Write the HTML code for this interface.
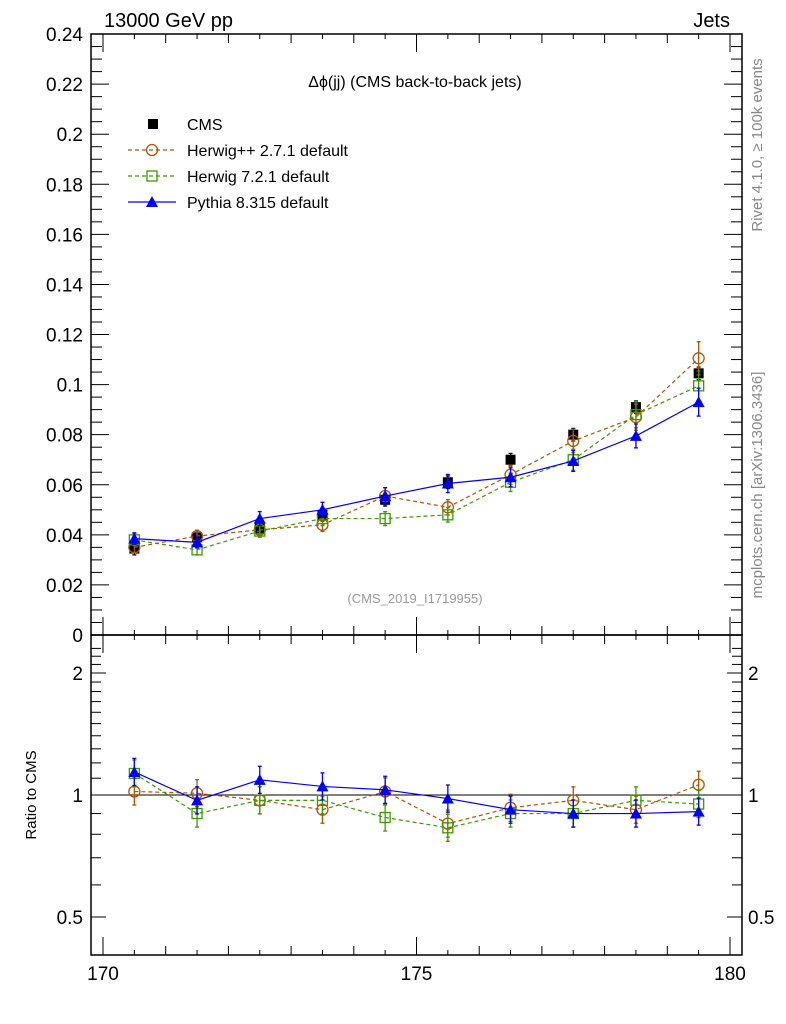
<!DOCTYPE html>
<html><head><meta charset="utf-8"><style>
body{margin:0;background:#fff}
svg{display:block;font-family:"Liberation Sans",Arial,sans-serif}
</style></head><body>
<svg id="s" width="786" height="1024" xmlns="http://www.w3.org/2000/svg"></svg>
<script>
const S=document.getElementById('s');let h='';
const X=v=>103+(v-170)*62.7;
const Y=v=>635-v*2504;
const R=v=>795-Math.log2(v)*122;
const L=91,Rt=742,T=34,M=635,B=955;
h+=`<rect x="${L}" y="${T}" width="${Rt-L}" height="${M-T}" fill="none" stroke="#000" stroke-width="1.5"/>`;
h+=`<rect x="${L}" y="${M}" width="${Rt-L}" height="${B-M}" fill="none" stroke="#000" stroke-width="1.5"/>`;
for(let v=170;v<=180.01;v+=0.5){const x=X(v),maj=Math.abs(v-Math.round(v))<.01;const l=maj?9:5;
 [[T,1],[M,-1],[M,1],[B,-1]].forEach(([y,d])=>{h+=`<line x1="${x}" y1="${y}" x2="${x}" y2="${y+d*l*(Number.isInteger(v)&&v%5==0?2:1)}" stroke="#000"/>`});}
for(let i=0;i<=48;i++){const v=i*0.005,y=Y(v),maj=i%4==0;const l=maj?18:11;
 h+=`<line x1="${L}" y1="${y}" x2="${L+l}" y2="${y}" stroke="#000"/><line x1="${Rt}" y1="${y}" x2="${Rt-l}" y2="${y}" stroke="#000"/>`;
 if(maj)h+=`<text x="${L-8}" y="${y+7}" font-size="19" text-anchor="end">${i==0?'0':(+v.toFixed(2)).toString()}</text>`;}
[0.5,0.6,0.7,0.8,0.9,1,1.1,1.2,1.3,1.4,1.5,1.6,1.7,1.8,1.9,2,2.1,2.2,2.3].forEach(v=>{const y=R(v);if(y<M||y>B)return;const maj=[0.5,1,2].includes(v);const l=maj?15:10;
 h+=`<line x1="${L}" y1="${y}" x2="${L+l}" y2="${y}" stroke="#000"/><line x1="${Rt}" y1="${y}" x2="${Rt-l}" y2="${y}" stroke="#000"/>`;
 if(maj){h+=`<text x="${L-8}" y="${y+7}" font-size="19" text-anchor="end">${v}</text><text x="${Rt+6}" y="${y+7}" font-size="19">${v}</text>`;}});
h+=`<line x1="${L}" y1="${R(1)}" x2="${Rt}" y2="${R(1)}" stroke="#000"/>`;
[170,175,180].forEach(v=>h+=`<text x="${X(v)}" y="980" font-size="19" text-anchor="middle">${v}</text>`);
h+=`<text x="104" y="27" font-size="20">13000 GeV pp</text><text x="730" y="27" font-size="20" text-anchor="end">Jets</text>`;
h+=`<text x="415" y="87" font-size="16" text-anchor="middle">Δϕ(jj) (CMS back-to-back jets)</text>`;
h+=`<text x="415" y="603" font-size="13" fill="#999" text-anchor="middle">(CMS_2019_I1719955)</text>`;
h+=`<text transform="translate(762,145) rotate(-90)" font-size="15" fill="#888" text-anchor="middle">Rivet 4.1.0, ≥ 100k events</text>`;
h+=`<text transform="translate(762,485) rotate(-90)" font-size="15" fill="#888" text-anchor="middle">mcplots.cern.ch [arXiv:1306.3436]</text>`;
h+=`<text transform="translate(36,795) rotate(-90)" font-size="15" text-anchor="middle">Ratio to CMS</text>`;
const xs=[170.5,171.5,172.5,173.5,174.5,175.5,176.5,177.5,178.5,179.5];
const cms=[0.0345,0.039,0.0425,0.048,0.054,0.061,0.070,0.080,0.091,0.1045];
const ser=[
 {c:'#b35300',d:'4,3',m:'c',v:[0.035,0.0395,0.042,0.044,0.0555,0.051,0.064,0.0775,0.087,0.1105],r:[1.02,1.01,0.97,0.92,1.02,0.85,0.93,0.97,0.92,1.06]},
 {c:'#3c9a00',d:'4,3',m:'s',v:[0.038,0.034,0.0415,0.0465,0.0465,0.048,0.061,0.070,0.088,0.0995],r:[1.13,0.9,0.97,0.97,0.88,0.83,0.9,0.9,0.97,0.95]},
 {c:'#0000ff',d:'',m:'t',v:[0.0385,0.037,0.0465,0.050,0.0555,0.0605,0.063,0.0695,0.0795,0.093],r:[1.14,0.97,1.09,1.05,1.03,0.98,0.92,0.9,0.9,0.91]}];
function mk(m,x,y,c){if(m=='c')return `<circle cx="${x}" cy="${y}" r="5.5" fill="none" stroke="${c}" stroke-width="1.3"/>`;
 if(m=='s')return `<rect x="${x-5}" y="${y-5}" width="10" height="10" fill="none" stroke="${c}" stroke-width="1.3"/>`;
 return `<polygon points="${x},${y-6} ${x-6},${y+5} ${x+6},${y+5}" fill="${c}"/>`;}
function eb(x,y1,y2,c){return `<line x1="${x}" y1="${y1}" x2="${x}" y2="${y2}" stroke="${c}" stroke-width="1.3"/><line x1="${x-2}" y1="${y1}" x2="${x+2}" y2="${y1}" stroke="${c}" stroke-width="1.3"/><line x1="${x-2}" y1="${y2}" x2="${x+2}" y2="${y2}" stroke="${c}" stroke-width="1.3"/>`;}
xs.forEach((x,i)=>{const px=X(x),py=Y(cms[i]);h+=eb(px,Y(cms[i]+0.0025),Y(cms[i]-0.0025),'#000')+`<rect x="${px-5}" y="${py-5}" width="10" height="10" fill="#000"/>`;});
ser.forEach(s=>{
 let p=xs.map((x,i)=>X(x)+','+Y(s.v[i])).join(' ');
 h+=`<polyline points="${p}" fill="none" stroke="${s.c}" stroke-width="1.2" stroke-dasharray="${s.d}"/>`;
 let q=xs.map((x,i)=>X(x)+','+R(s.r[i])).join(' ');
 h+=`<polyline points="${q}" fill="none" stroke="${s.c}" stroke-width="1.2" stroke-dasharray="${s.d}"/>`;
 xs.forEach((x,i)=>{const px=X(x);const e=s.v[i]*0.06;
  h+=eb(px,Y(s.v[i]+e),Y(s.v[i]-e),s.c);
  h+=eb(px,R(s.r[i]*1.08),R(s.r[i]/1.08),s.c);
  h+=mk(s.m,px,Y(s.v[i]),s.c)+mk(s.m,px,R(s.r[i]),s.c);});
});
h+=`<rect x="148" y="119" width="10" height="10" fill="#000"/><text x="187" y="130" font-size="16">CMS</text>`;
const ln=['Herwig++ 2.7.1 default','Herwig 7.2.1 default','Pythia 8.315 default'];
ser.forEach((s,i)=>{const y=150+26*i;h+=`<line x1="128" y1="${y}" x2="176" y2="${y}" stroke="${s.c}" stroke-width="1.2" stroke-dasharray="${s.d}"/>`+mk(s.m,152,y,s.c)+`<text x="187" y="${y+6}" font-size="16">${ln[i]}</text>`;});
S.innerHTML=h;
</script>
</body></html>
